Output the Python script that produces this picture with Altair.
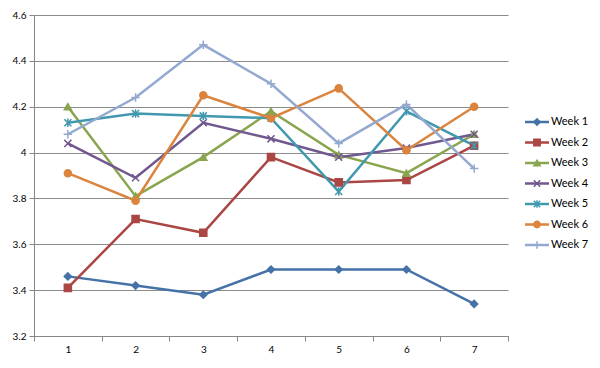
import altair as alt
import pandas as pd

weeks = ["Week 1", "Week 2", "Week 3", "Week 4", "Week 5", "Week 6", "Week 7"]
days = [1, 2, 3, 4, 5, 6, 7]
week1 = [3.46, 3.42, 3.38, 3.49, 3.49, 3.49, 3.34]
week2 = [3.41, 3.71, 3.65, 3.98, 3.87, 3.88, 4.03]
week3 = [4.20, 3.81, 3.98, 4.18, 3.99, 3.91, 4.08]
week4 = [4.04, 3.89, 4.13, 4.06, 3.98, 4.02, 4.08]
week5 = [4.13, 4.17, 4.16, 4.15, 3.83, 4.18, 4.03]
week6 = [3.91, 3.79, 4.25, 4.15, 4.28, 4.01, 4.20]
week7 = [4.08, 4.24, 4.47, 4.30, 4.04, 4.21, 3.93]
y_ticks = [3.2, 3.4, 3.6, 3.8, 4.0, 4.2, 4.4, 4.6]

colors = ["#4572A7", "#AA4643", "#89A54E", "#71588F", "#4198AF", "#DB843D", "#93A9CF"]
shapes = [
    "diamond",
    "square",
    "triangle-up",
    "M-1,-1L1,1M-1,1L1,-1",
    "M-1,-1L1,1M-1,1L1,-1M0,-1.2L0,1.2",
    "circle",
    "M-1.2,0L1.2,0M0,-1.2L0,1.2",
]

series = [week1, week2, week3, week4, week5, week6, week7]
rows = []
for w, vals in zip(weeks, series):
    for d, v in zip(days, vals):
        rows.append({"series": w, "day": str(d), "value": v})
df = pd.DataFrame(rows)
leg = pd.DataFrame({"series": weeks})
day_labels = [str(d) for d in days]

color_scale = alt.Scale(domain=weeks, range=colors)
shape_scale = alt.Scale(domain=weeks, range=shapes)

x_enc = alt.X(
    "day:O",
    scale=alt.Scale(type="band", domain=day_labels, paddingInner=0, paddingOuter=0),
    axis=alt.Axis(
        title=None,
        grid=False,
        labelAngle=0,
        tickBand="extent",
        tickSize=5,
        labelPadding=3,
        domainColor="#868686",
        tickColor="#868686",
    ),
)
y_enc = alt.Y(
    "value:Q",
    scale=alt.Scale(domain=[3.2, 4.6], nice=False, zero=False),
    axis=alt.Axis(
        values=y_ticks,
        format=".1~f",
        title=None,
        grid=True,
        gridColor="#8c8c8c",
        domainColor="#868686",
        tickColor="#868686",
        tickSize=5,
        labelPadding=3,
        labelOverlap=False,
        labelFlush=False,
    ),
)

base = alt.Chart(df)
lines = base.mark_line(strokeWidth=2.5).encode(
    x=x_enc,
    y=y_enc,
    color=alt.Color("series:N", scale=color_scale, legend=None, sort=weeks),
    detail="series:N",
)
points = base.mark_point(filled=True, strokeWidth=1.5, opacity=1).encode(
    x=alt.X("day:O"),
    y=alt.Y("value:Q"),
    color=alt.Color("series:N", scale=color_scale, legend=None),
    stroke=alt.Stroke("series:N", scale=color_scale, legend=None),
    shape=alt.Shape("series:N", scale=shape_scale, legend=None),
    size=alt.value(50),
)
main = alt.layer(lines, points)

ly = alt.Y("series:N", scale=alt.Scale(type="point", domain=weeks, range=[107, 230], padding=0), axis=None)
lbase = alt.Chart(leg)
lrule = lbase.mark_rule(strokeWidth=2.5).encode(
    x=alt.value(491), x2=alt.value(515), y=ly,
    color=alt.Color("series:N", scale=color_scale, legend=None),
)
lpts = lbase.mark_point(filled=True, strokeWidth=1.5, opacity=1).encode(
    x=alt.value(503), y=ly,
    color=alt.Color("series:N", scale=color_scale, legend=None),
    stroke=alt.Stroke("series:N", scale=color_scale, legend=None),
    shape=alt.Shape("series:N", scale=shape_scale, legend=None),
    size=alt.value(40),
)
ltext = lbase.mark_text(align="left", baseline="middle", font="Lato", fontSize=11, color="#000000").encode(
    x=alt.value(517), y=ly, text="series:N",
)
legend_layer = alt.layer(lrule, lpts, ltext)

chart = (
    alt.layer(main, legend_layer)
    .resolve_scale(y="independent")
    .properties(
        width=474,
        height=321,
        autosize=alt.AutoSizeParams(type="none"),
        padding={"left": 26, "top": 7, "right": 84, "bottom": 24},
        background="white",
    )
    .configure_view(stroke=None)
    .configure_axis(labelFont="Lato", labelFontSize=10, labelColor="#000000")
)

chart.save("out.html", embed_options={"renderer": "svg", "actions": False})
